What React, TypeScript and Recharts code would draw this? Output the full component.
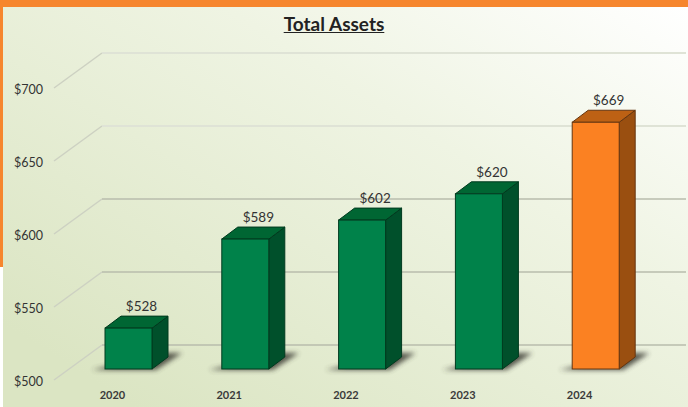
import { Bar, BarChart, CartesianGrid, LabelList, XAxis, YAxis } from "recharts"

const years = ["2020", "2021", "2022", "2023", "2024"]
const assets = [528, 589, 602, 620, 669]
const yTicks = [500, 550, 600, 650, 700]

const data = years.map((year, i) => ({ year, value: assets[i] }))

const font = "Lato, sans-serif"
const greenFaces = { front: "#00824a", top: "#006633", side: "#00502b", edge: "#003a1e" }
const orangeFaces = { front: "#fb8122", top: "#bd6114", side: "#9a4f10", edge: "#663610" }

function Box3D(props: any) {
  const { x, y, width, height, index } = props
  const c = index === 4 ? orangeFaces : greenFaces
  const r = x + width
  const b = y + height
  const dx = 16
  const dy = 12
  return (
    <g>
      <polygon
        points={`${x - 13},${b + 1} ${r + 4},${b + 1} ${r + 30},${b - 16} ${r + 12},${b - 16}`}
        fill="#3c3c34"
        opacity={0.85}
        filter="url(#soft)"
      />
      <polygon points={`${r},${y} ${r + dx},${y - dy} ${r + dx},${b - dy} ${r},${b}`} fill={c.side} stroke={c.edge} />
      <polygon points={`${x},${y} ${x + dx},${y - dy} ${r + dx},${y - dy} ${r},${y}`} fill={c.top} stroke={c.edge} />
      <rect x={x} y={y} width={width} height={height} fill={c.front} stroke={c.edge} />
    </g>
  )
}

function GridFloor(props: any) {
  const { x1, x2, y1 } = props
  const dark = y1 > 180
  const back = y1 - 24
  return (
    <g fill="none">
      <line x1={x1 - 16} y1={y1 + 11} x2={x1 + 32} y2={back} stroke="#cdd1c2" strokeWidth={1.5} />
      <line
        x1={x1 + 32}
        y1={back}
        x2={x2 + 32}
        y2={back}
        stroke={dark ? "#b9bdac" : "#dfe3d6"}
        strokeWidth={dark ? 1.5 : 2}
      />
    </g>
  )
}

function YTick({ y, payload }: any) {
  return (
    <text x={43} y={y + 13} dy={4} textAnchor="end" fontFamily={font} fontSize={12.5} fill="#333">
      ${payload.value}
    </text>
  )
}

function XTick({ x, payload }: any) {
  return (
    <text x={x - 16} y={399} textAnchor="middle" fontFamily={font} fontSize={11} fontWeight={700} fill="#3a3a3a">
      {payload.value}
    </text>
  )
}

function ValueLabel({ x, y, width, value }: any) {
  return (
    <text x={x + width / 2 + 13} y={y - 17} textAnchor="middle" fontFamily={font} fontSize={13.5} fill="#333">
      ${value}
    </text>
  )
}

export default function App() {
  return (
    <div style={{ position: "absolute", left: 0, top: 0, width: 688, height: 407, overflow: "hidden", background: "#fff" }}>
      <div style={{ position: "absolute", left: 0, top: 0, width: 688, height: 7, background: "#f6862e" }} />
      <div style={{ position: "absolute", left: 0, top: 0, width: 3, height: 267, background: "#f6862e" }} />
      <div
        style={{
          position: "absolute",
          left: 3,
          top: 7,
          width: 685,
          height: 400,
          background: "linear-gradient(212deg, #ffffff 0%, #eff4e3 35%, #dbe5c3 90%)",
        }}
      />
      <div
        style={{
          position: "absolute",
          left: 234,
          width: 200,
          top: 12,
          textAlign: "center",
          fontFamily: font,
          fontSize: 19,
          fontWeight: 700,
          textDecoration: "underline",
          color: "#222",
        }}
      >
        Total Assets
      </div>
      <div style={{ position: "absolute", left: 0, top: 0 }}>
        <BarChart width={688} height={407} data={data} margin={{ top: 77, right: 34, bottom: 0, left: 0 }}>
          <defs>
            <filter id="soft" x="-30%" y="-80%" width="160%" height="260%">
              <feGaussianBlur stdDeviation="2.5" />
            </filter>
          </defs>
          <CartesianGrid vertical={false} horizontal={<GridFloor />} />
          <XAxis dataKey="year" height={38} axisLine={false} tickLine={false} tick={<XTick />} interval={0} />
          <YAxis width={70} domain={[500, 700]} ticks={yTicks} axisLine={false} tickLine={false} tick={<YTick />} />
          <Bar dataKey="value" barSize={47} shape={<Box3D />} isAnimationActive={false}>
            <LabelList dataKey="value" content={<ValueLabel />} />
          </Bar>
        </BarChart>
      </div>
    </div>
  )
}
